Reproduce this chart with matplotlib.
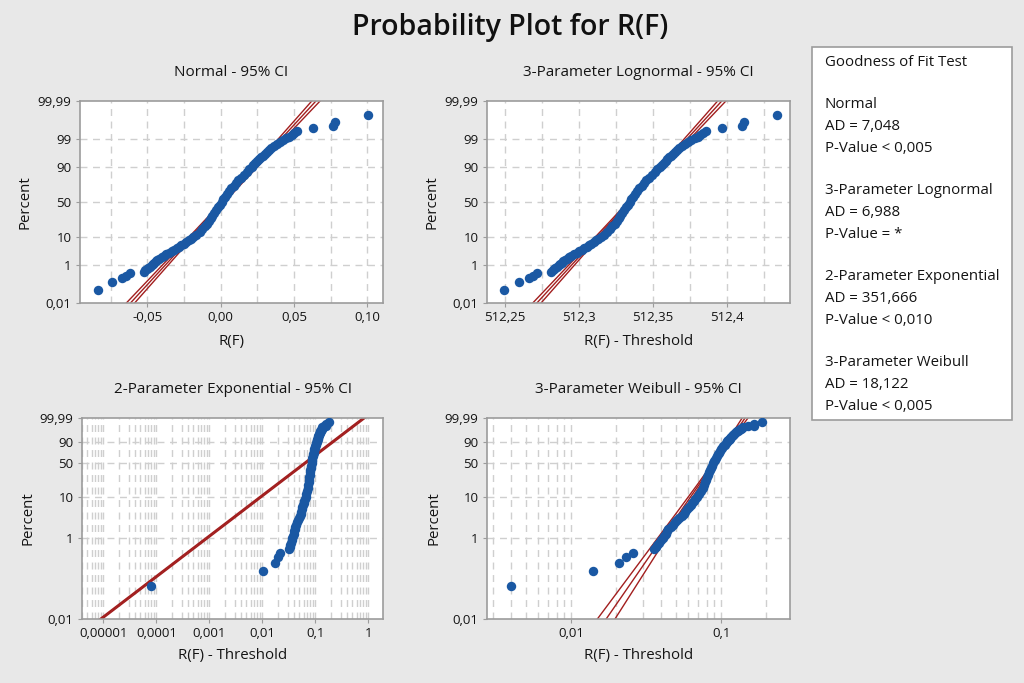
import math
import numpy as np
import matplotlib
matplotlib.use("Agg")
import matplotlib.pyplot as plt
from matplotlib.ticker import FixedLocator, FixedFormatter, NullLocator, LogLocator, NullFormatter
from matplotlib.patches import Rectangle

plt.rcParams['font.family'] = ['Open Sans', 'DejaVu Sans']

# --- observed R(F) values with their plotting positions (percent) ---
pct = [0.0636, 0.1545, 0.245, 0.336, 0.427,
       0.52, 0.60, 0.68, 0.77, 0.87, 1.0, 1.13, 1.28, 1.45, 1.65, 1.87, 2.1, 2.4, 2.7,
       3.05, 3.45, 3.9, 4.4, 5.0, 5.6, 6.3, 7.1, 8.0, 8.9, 10.0,
       11.5, 13.6, 15.9, 18.4, 21.2, 24.2, 27.4, 30.9, 34.5, 38.2, 42.1, 46.0, 50.0,
       54.0, 57.9, 61.8, 65.5, 69.1, 72.6, 75.8, 78.8, 81.6, 84.1, 86.4, 88.5, 90.3,
       91.3, 92.4, 93.3, 94.2, 94.95, 95.6, 96.25, 96.8, 97.25, 97.7, 98.03, 98.34,
       98.61, 98.84, 99.04, 99.2, 99.34, 99.46, 99.56,
       99.664, 99.755, 99.845, 99.936]
rf = [-0.0839, -0.0739, -0.0670, -0.0645, -0.0620,
      -0.0522, -0.0513, -0.0505, -0.0496, -0.0484, -0.0470, -0.0461, -0.0452, -0.0443,
      -0.0433, -0.0418, -0.0403, -0.0386, -0.0370,
      -0.0352, -0.0333, -0.0315, -0.0300, -0.0284, -0.0269, -0.0253, -0.0236, -0.0219,
      -0.0204, -0.0187,
      -0.0167, -0.0144, -0.0124, -0.0109, -0.0095, -0.0081, -0.0068, -0.0056, -0.0043,
      -0.0031, -0.0018, -0.0006, 0.0007,
      0.0019, 0.0032, 0.0044, 0.0057, 0.0073, 0.0088, 0.0104, 0.0121, 0.0140, 0.0158,
      0.0177, 0.0195, 0.0213,
      0.0224, 0.0237, 0.0250, 0.0263, 0.0276, 0.0289, 0.0303, 0.0316, 0.0329, 0.0343,
      0.0361, 0.0382, 0.0404, 0.0425, 0.0447, 0.0467, 0.0485, 0.0502, 0.0520,
      0.0631, 0.0768, 0.0779, 0.1002]

# thresholds of the 3-parameter / 2-parameter fits
thr_lognormal = -512.3335
thr_exponential = -0.08398
thr_weibull = -0.0879

# fitted parameters
n_obs = 1100
normal_mu, normal_sigma = 0.00175, 0.0170
lognormal_center, lognormal_sigma = 512.334, 0.0168
expo_theta = 0.090
weib_shape, weib_scale = 5.36, 0.0955
weib_ci = 0.0195

# goodness of fit table
gof_names = ["Normal", "3-Parameter Lognormal", "2-Parameter Exponential", "3-Parameter Weibull"]
gof_ad = ["7,048", "6,988", "351,666", "18,122"]
gof_p = ["< 0,005", "= *", "< 0,010", "< 0,005"]

BLUE = '#1a58a3'
RED = '#a21e1e'
GRID = '#cfcfcf'
BG = '#e8e8e8'
TXT = '#141414'
MS = 6.8

# --- probability scales ---
_A = [-3.969683028665376e+01, 2.209460984245205e+02, -2.759285104469687e+02,
      1.383577518672690e+02, -3.066479806614716e+01, 2.506628277459239e+00]
_B = [-5.447609879822406e+01, 1.615858368580409e+02, -1.556989798598866e+02,
      6.680131188771972e+01, -1.328068155288572e+01]
_C = [-7.784894002430293e-03, -3.223964580411365e-01, -2.400758277161838e+00,
      -2.549671010528205e+00, 4.374664141464968e+00, 2.938163982698783e+00]
_D = [7.784695709041462e-03, 3.224671290700398e-01, 2.445134137142996e+00,
      3.754408661907416e+00]


def norm_ppf(p):
    p = np.clip(np.asarray(p, dtype=float), 1e-15, 1 - 1e-15)
    with np.errstate(all='ignore'):
        q = np.sqrt(-2 * np.log(p))
        low = (((((_C[0]*q+_C[1])*q+_C[2])*q+_C[3])*q+_C[4])*q+_C[5]) / \
              ((((_D[0]*q+_D[1])*q+_D[2])*q+_D[3])*q+1)
        q2 = np.sqrt(-2 * np.log(1 - p))
        high = -(((((_C[0]*q2+_C[1])*q2+_C[2])*q2+_C[3])*q2+_C[4])*q2+_C[5]) / \
               ((((_D[0]*q2+_D[1])*q2+_D[2])*q2+_D[3])*q2+1)
        q3 = p - 0.5
        r = q3 * q3
        mid = (((((_A[0]*r+_A[1])*r+_A[2])*r+_A[3])*r+_A[4])*r+_A[5])*q3 / \
              (((((_B[0]*r+_B[1])*r+_B[2])*r+_B[3])*r+_B[4])*r+1)
    return np.where(p < 0.02425, low, np.where(p > 1 - 0.02425, high, mid))


_erf = np.vectorize(math.erf)


def norm_cdf(z):
    return 0.5 * (1 + _erf(np.asarray(z, dtype=float) / math.sqrt(2)))


def pct_to_z(y):
    return norm_ppf(np.asarray(y, dtype=float) / 100.0)


def z_to_pct(z):
    return 100.0 * norm_cdf(z)


def pct_to_w(y):
    p = np.clip(np.asarray(y, dtype=float) / 100.0, 1e-15, 1 - 1e-15)
    return np.log(-np.log(1 - p))


def w_to_pct(w):
    return 100.0 * (1 - np.exp(-np.exp(np.asarray(w, dtype=float))))


def style_axes(ax, title, xlabel, ylab_x, title_y, xlabel_y):
    ax.set_facecolor('white')
    for s in ax.spines.values():
        s.set_color('#9c9c9c')
        s.set_linewidth(1.2)
    ax.tick_params(which='major', length=3, color='#9c9c9c', labelsize=9.5,
                   labelcolor=TXT, pad=3)
    ax.tick_params(which='minor', length=0)
    ax.set_axisbelow(True)
    bb = ax.get_position()
    cx = (bb.x0 + bb.x1) / 2
    fig.text(cx, 1 - title_y / 683, title, ha='center', va='center', fontsize=11, color=TXT)
    fig.text(cx, 1 - xlabel_y / 683, xlabel, ha='center', va='center', fontsize=10.8, color=TXT)
    fig.text(ylab_x / 1024, (bb.y0 + bb.y1) / 2, "Percent", ha='center', va='center',
             rotation=90, fontsize=10.8, color=TXT)


def prob_y_axis(ax, kind):
    if kind == 'normal':
        ax.set_yscale('function', functions=(pct_to_z, z_to_pct))
        ticks = [0.01, 1, 10, 50, 90, 99, 99.99]
        labels = ["0,01", "1", "10", "50", "90", "99", "99,99"]
    else:
        ax.set_yscale('function', functions=(pct_to_w, w_to_pct))
        ticks = [0.01, 1, 10, 50, 90, 99.99]
        labels = ["0,01", "1", "10", "50", "90", "99,99"]
    ax.set_ylim(0.01, 99.99)
    ax.yaxis.set_major_locator(FixedLocator(ticks))
    ax.yaxis.set_major_formatter(FixedFormatter(labels))
    ax.yaxis.set_minor_locator(NullLocator())
    for t in ticks[1:-1]:
        ax.axhline(t, color=GRID, lw=1.0, ls=(0, (5, 4)), zorder=0)


fig = plt.figure(figsize=(10.24, 6.83), dpi=100)
fig.patch.set_facecolor(BG)

pct_a = np.array(pct)
rf_a = np.array(rf)
zz = np.linspace(-3.9, 3.9, 300)
ww = np.linspace(-9.6, 2.6, 300)


def add_ax(left, top, right, bottom):
    return fig.add_axes([left / 1024, 1 - bottom / 683, (right - left) / 1024, (bottom - top) / 683])


def ci_lines(ax, xs, ys):
    for x in xs:
        ax.plot(x, ys, color=RED, lw=1.0, zorder=2, solid_capstyle='butt')


# --- Normal ---
ax1 = add_ax(80, 101, 383, 303)
prob_y_axis(ax1, 'normal')
ax1.set_xlim(-0.0959, 0.1107)
ax1.xaxis.set_major_locator(FixedLocator([-0.05, 0.0, 0.05, 0.10]))
ax1.xaxis.set_major_formatter(FixedFormatter(["-0,05", "0,00", "0,05", "0,10"]))
for g in np.arange(-0.075, 0.101, 0.025):
    ax1.axvline(g, color=GRID, lw=1.0, ls=(0, (5, 4)), zorder=0)
hw = 1.96 * normal_sigma / math.sqrt(n_obs) * np.sqrt(1 + zz ** 2 / 2)
c = normal_mu + normal_sigma * zz
ci_lines(ax1, [c - hw, c, c + hw], z_to_pct(zz))
ax1.plot(rf_a, pct_a, 'o', color=BLUE, ms=MS, mew=0, zorder=3)
style_axes(ax1, "Normal - 95% CI", "R(F)", 25, 73, 341)

# --- 3-Parameter Lognormal ---
ax2 = add_ax(487, 101, 790, 303)
prob_y_axis(ax2, 'normal')
ax2.set_xlim(512.2378, 512.4426)
ax2.xaxis.set_major_locator(FixedLocator([512.25, 512.3, 512.35, 512.4]))
ax2.xaxis.set_major_formatter(FixedFormatter(["512,25", "512,3", "512,35", "512,4"]))
for g in np.arange(512.25, 512.44, 0.025):
    ax2.axvline(g, color=GRID, lw=1.0, ls=(0, (5, 4)), zorder=0)
s_log = lognormal_sigma / lognormal_center
hw = 1.96 * s_log / math.sqrt(n_obs) * np.sqrt(1 + zz ** 2 / 2)
lc = math.log(lognormal_center) + s_log * zz
ci_lines(ax2, [np.exp(lc - hw), np.exp(lc), np.exp(lc + hw)], z_to_pct(zz))
ax2.plot(rf_a - thr_lognormal, pct_a, 'o', color=BLUE, ms=MS, mew=0, zorder=3)
style_axes(ax2, "3-Parameter Lognormal - 95% CI", "R(F) - Threshold", 432, 73, 341)

# --- 2-Parameter Exponential ---
ax3 = add_ax(82, 418, 383, 619)
prob_y_axis(ax3, 'weibull')
ax3.set_xscale('log')
ax3.set_xlim(3.96e-6, 1.89)
ax3.xaxis.set_major_locator(FixedLocator([1e-5, 1e-4, 1e-3, 1e-2, 1e-1, 1]))
ax3.xaxis.set_major_formatter(FixedFormatter(["0,00001", "0,0001", "0,001", "0,01", "0,1", "1"]))
ax3.xaxis.set_minor_locator(LogLocator(base=10, subs=np.arange(2, 10)))
ax3.xaxis.set_minor_formatter(NullFormatter())
ax3.grid(True, axis='x', which='both', color=GRID, lw=1.0, ls=(0, (5, 4)))
xe = expo_theta * np.exp(ww)
d = math.exp(1.96 / math.sqrt(n_obs))
ci_lines(ax3, [xe / d, xe, xe * d], w_to_pct(ww))
ax3.plot(rf_a - thr_exponential, pct_a, 'o', color=BLUE, ms=MS, mew=0, zorder=3)
style_axes(ax3, "2-Parameter Exponential - 95% CI", "R(F) - Threshold", 28, 389, 656)

# --- 3-Parameter Weibull ---
ax4 = add_ax(487, 418, 790, 619)
prob_y_axis(ax4, 'weibull')
ax4.set_xscale('log')
ax4.set_xlim(0.00275, 0.288)
ax4.xaxis.set_major_locator(FixedLocator([0.01, 0.1]))
ax4.xaxis.set_major_formatter(FixedFormatter(["0,01", "0,1"]))
ax4.xaxis.set_minor_locator(LogLocator(base=10, subs=np.arange(2, 10)))
ax4.xaxis.set_minor_formatter(NullFormatter())
ax4.grid(True, axis='x', which='both', color=GRID, lw=1.0, ls=(0, (5, 4)))
lw_c = np.log(weib_scale) + ww / weib_shape
hw = weib_ci * np.sqrt(1.1087 + 0.514 * ww + 0.6079 * ww ** 2)
ci_lines(ax4, [np.exp(lw_c - hw), np.exp(lw_c), np.exp(lw_c + hw)], w_to_pct(ww))
ax4.plot(rf_a - thr_weibull, pct_a, 'o', color=BLUE, ms=MS, mew=0, zorder=3)
style_axes(ax4, "3-Parameter Weibull - 95% CI", "R(F) - Threshold", 434, 389, 656)

# --- title ---
fig.text(510 / 1024, 1 - 28 / 683, "Probability Plot for R(F)", ha='center', va='center',
         fontsize=20.5, fontweight='semibold', color='#111111')

# --- goodness of fit box ---
fig.patches.append(Rectangle((812 / 1024, 1 - 420 / 683), 200 / 1024, 373 / 683,
                             transform=fig.transFigure, facecolor='white',
                             edgecolor='#9c9c9c', lw=1.2, zorder=0))
fig.text(825 / 1024, 1 - 62 / 683, "Goodness of Fit Test", ha='left', va='center',
         fontsize=10.8, color=TXT)
y0 = 105
for i in range(len(gof_names)):
    lines = [gof_names[i], "AD = " + gof_ad[i], "P-Value " + gof_p[i]]
    for j, s in enumerate(lines):
        fig.text(825 / 1024, 1 - (y0 + 86 * i + 21.5 * j) / 683, s, ha='left', va='center',
                 fontsize=10.8, color=TXT)

fig.savefig("out.png", dpi=100, facecolor=BG)
